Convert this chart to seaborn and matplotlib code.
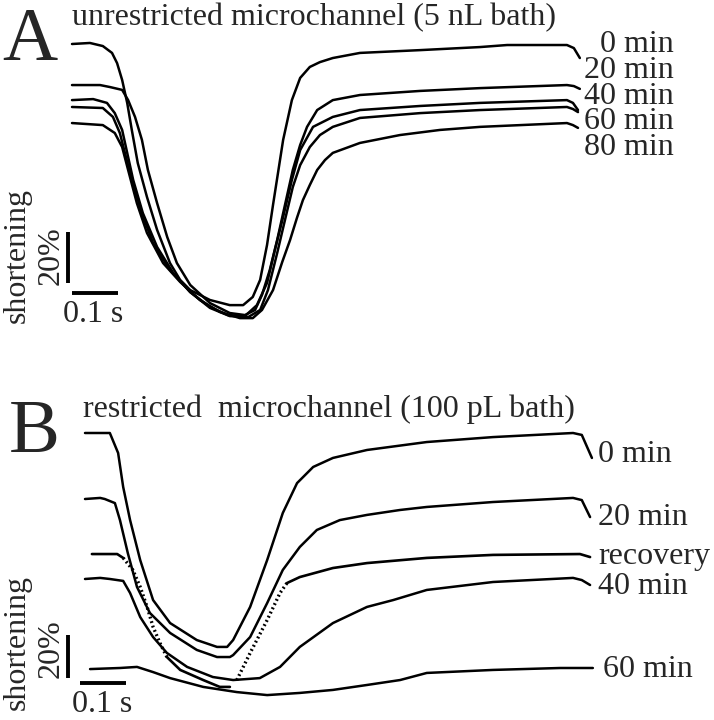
import pandas as pd
import matplotlib
matplotlib.use('Agg')
import matplotlib.pyplot as plt
import seaborn as sns

sns.set_style('white')
plt.rcParams['font.family'] = ['Liberation Serif', 'DejaVu Serif']

# ---- Panel A: unrestricted microchannel, time (ms) vs shortening (%) ----
a_labels = ['0 min', '20 min', '40 min', '60 min', '80 min']

a0_t = [0, 39, 67, 87, 98, 109, 120, 130, 143, 163, 185, 213, 235, 257, 300, 343, 372, 393, 409, 424,
        437, 459, 478, 496, 517, 539, 567, 626, 757, 887, 946, 1076, 1091, 1104]
a0_s = [0, -0.4, 0.8, 3.5, 7.5, 14.1, 23.1, 33.7, 46.7, 60.0, 72.9, 85.9, 92.5, 96.5, 100.4, 102.4, 102.4,
        99.2, 92.5, 78.8, 63.1, 37.6, 22.0, 13.3, 9.0, 7.1, 5.5, 3.5, 2.4, 1.2, 0.4, 0.4, 1.6, 5.5]

a20_t = [0, 61, 83, 109, 122, 137, 152, 165, 185, 207, 228, 257, 300, 343, 376, 398, 413, 430, 446, 463,
         480, 496, 511, 533, 567, 626, 757, 887, 1076, 1091, 1104]
a20_s = [16.1, 16.1, 16.9, 18.0, 22.0, 28.6, 37.6, 49.4, 62.4, 75.7, 85.9, 94.5, 101.6, 105.5, 106.3,
         104.3, 98.4, 88.6, 76.9, 63.1, 49.4, 39.6, 32.5, 25.9, 22.0, 20.0, 18.4, 17.3, 16.1, 16.5, 17.6]

a40_t = [0, 46, 76, 93, 109, 120, 133, 154, 185, 220, 257, 300, 339, 376, 402, 424, 441, 459, 478, 496,
         524, 567, 626, 757, 887, 1076, 1089, 1100]
a40_s = [22.0, 21.6, 23.1, 27.1, 33.7, 42.7, 53.3, 66.3, 79.6, 89.8, 97.3, 103.1, 106.3, 106.7, 102.4,
         93.7, 80.8, 67.8, 53.3, 41.6, 32.5, 28.6, 25.9, 24.3, 23.1, 22.0, 23.1, 25.9]

a60_t = [0, 67, 89, 104, 115, 130, 152, 176, 213, 257, 300, 343, 383, 409, 426, 446, 463, 480, 496, 517,
         539, 567, 626, 757, 887, 1076, 1089, 1100]
a60_s = [24.7, 25.1, 28.6, 34.9, 42.7, 53.3, 66.3, 78.0, 88.6, 97.3, 103.5, 106.7, 107.1, 104.3, 96.5,
         82.0, 69.0, 56.1, 47.5, 40.4, 35.7, 32.5, 29.0, 27.1, 25.9, 24.7, 25.5, 26.7]

a80_t = [0, 67, 93, 109, 122, 141, 163, 198, 235, 278, 322, 365, 393, 413, 437, 457, 474, 489, 502, 517,
         533, 550, 567, 626, 713, 800, 887, 1076, 1089, 1100]
a80_s = [31.0, 31.8, 34.9, 40.4, 49.4, 62.4, 74.1, 85.9, 93.3, 100.4, 105.1, 107.5, 107.5, 104.3, 96.5,
         85.5, 76.9, 68.2, 61.2, 55.3, 49.4, 45.5, 42.7, 38.8, 35.7, 33.7, 32.5, 31.0, 31.8, 32.9]

# ---- Panel B: restricted microchannel ----
b_labels = ['0 min', '20 min', 'recovery', '40 min', '60 min']

b0_t = [0, 54, 72, 83, 98, 120, 148, 185, 243, 287, 309, 322, 359, 396, 430, 461, 496, 539, 613, 743,
        887, 1061, 1080, 1102]
b0_s = [0, 0, 9.3, 25.1, 40.5, 59.1, 77.7, 88.4, 96.3, 99.5, 99.5, 96.3, 80.9, 59.1, 37.2, 23.3, 15.8,
        11.6, 7.9, 4.2, 1.9, 0, 0.9, 11.6]

b20_t = [0, 33, 43, 65, 76, 93, 113, 141, 185, 243, 287, 315, 322, 359, 396, 430, 467, 504, 554, 613,
         685, 743, 887, 1061, 1080, 1098]
b20_s = [30.7, 30.2, 30.7, 32.6, 40.5, 55.8, 71.6, 83.7, 93.0, 100.9, 104.2, 104.2, 103.3, 94.9, 79.1,
         63.7, 53.0, 45.1, 40.5, 38.1, 35.8, 34.4, 32.1, 30.2, 31.2, 39.1]

brec_t = [15, 70, 83, 104, 120, 135, 148, 163, 178, 207, 257, 293, 315, 330, 359, 396, 424, 439, 467,
          539, 613, 743, 887, 1076, 1098]
brec_s = [56.3, 56.3, 58.1, 63.7, 71.6, 80.9, 90.2, 97.7, 104.2, 110.2, 114.9, 118.1, 118.1, 114.9,
          102.3, 87.0, 74.4, 69.8, 67.0, 62.8, 60.5, 58.1, 56.7, 56.3, 57.7]

b40_t = [0, 33, 54, 83, 98, 120, 148, 178, 222, 278, 322, 380, 424, 467, 539, 613, 670, 743, 887, 1061,
         1080, 1098]
b40_s = [67.9, 67.4, 67.9, 68.8, 74.4, 85.6, 94.9, 102.3, 108.8, 113.5, 114.9, 114.0, 108.8, 99.5, 88.4,
         80.9, 77.7, 73.0, 69.3, 67.4, 68.4, 70.7]

b60_t = [11, 76, 113, 148, 185, 257, 330, 396, 467, 539, 613, 685, 743, 887, 1033, 1104]
b60_s = [109.8, 109.3, 108.8, 111.2, 114.0, 118.1, 120.5, 121.9, 120.9, 119.5, 117.2, 114.9, 111.6,
         110.2, 109.3, 109.3]

W, H = 714, 720
fig = plt.figure(figsize=(W / 100, H / 100), dpi=100)
axA = fig.add_axes([0, 0.5, 1, 0.5])
axB = fig.add_axes([0, 0, 1, 0.5])


def fx(px):
    return px / W


def fy(py):
    return 1 - py / H


# panel A
for t, s in [(a0_t, a0_s), (a20_t, a20_s), (a40_t, a40_s), (a60_t, a60_s), (a80_t, a80_s)]:
    sns.lineplot(x=t, y=s, ax=axA, color='black', lw=1.8, sort=False, estimator=None)
axA.set_xlim(-72 / 0.46, (W - 72) / 0.46)
axA.set_ylim((360 - 44) / 2.55, -44 / 2.55)
# scale bars: 100 ms, 20 %
axA.plot([0, 100], [97.6, 97.6], color='black', lw=2.8, solid_capstyle='butt')
axA.plot([-8.7, -8.7], [73.7, 93.7], color='black', lw=2.8, solid_capstyle='butt')

# panel B
for t, s in [(b0_t, b0_s), (b20_t, b20_s), (b40_t, b40_s), (b60_t, b60_s)]:
    sns.lineplot(x=t, y=s, ax=axB, color='black', lw=1.8, sort=False, estimator=None)
# recovery trace: sparse samples show up as dots on the fast phases
rec = pd.DataFrame({'t': brec_t, 's': brec_s})
fast = [(83, 178), (322, 439)]
slow = [(15, 83), (178, 322), (439, 1098)]
for lo, hi in slow:
    seg = rec[(rec.t >= lo) & (rec.t <= hi)]
    axB.plot(seg.t, seg.s, color='black', lw=1.9)
for lo, hi in fast:
    seg = rec[(rec.t >= lo) & (rec.t <= hi)]
    axB.plot(seg.t, seg.s, color='black', lw=2.4, linestyle=(0, (0.55, 0.85)))
axB.set_xlim(-85 / 0.46, (W - 85) / 0.46)
axB.set_ylim((720 - 433) / 2.15, (360 - 433) / 2.15)
axB.plot([-10.9, 89.1], [116.3, 116.3], color='black', lw=2.8, solid_capstyle='butt')
axB.plot([-37, -37], [94.0, 114.0], color='black', lw=2.8, solid_capstyle='butt')

for ax in (axA, axB):
    ax.set_axis_off()

fs = 23
# panel letters and titles
fig.text(fx(2), fy(60), 'A', fontsize=55, va='baseline')
fig.text(fx(72), fy(25), 'unrestricted microchannel (5 nL bath)', fontsize=fs, va='baseline')
fig.text(fx(9), fy(452), 'B', fontsize=55, va='baseline')
fig.text(fx(83), fy(417), 'restricted  microchannel (100 pL bath)', fontsize=fs, va='baseline')

# trace labels
for lab, yb in zip(a_labels, [52, 78, 104, 129, 155]):
    fig.text(fx(674), fy(yb), lab, fontsize=fs, ha='right', va='baseline')
for lab, xl, yb in zip(b_labels, [598, 598, 598, 598, 603], [462, 525, 564, 594, 677]):
    fig.text(fx(xl), fy(yb), lab, fontsize=fs, ha='left', va='baseline')

# scale bar texts
fig.text(fx(63), fy(322), '0.1 s', fontsize=fs, va='baseline')
fig.text(fx(51), fy(256), '20%', fontsize=fs, rotation=90, ha='center', va='center')
fig.text(fx(17), fy(255), 'shortening', fontsize=fs, rotation=90, ha='center', va='center')
fig.text(fx(72), fy(712), '0.1 s', fontsize=fs, va='baseline')
fig.text(fx(51), fy(649), '20%', fontsize=fs, rotation=90, ha='center', va='center')
fig.text(fx(17), fy(643), 'shortening', fontsize=fs, rotation=90, ha='center', va='center')

fig.savefig('out.png', dpi=100)
